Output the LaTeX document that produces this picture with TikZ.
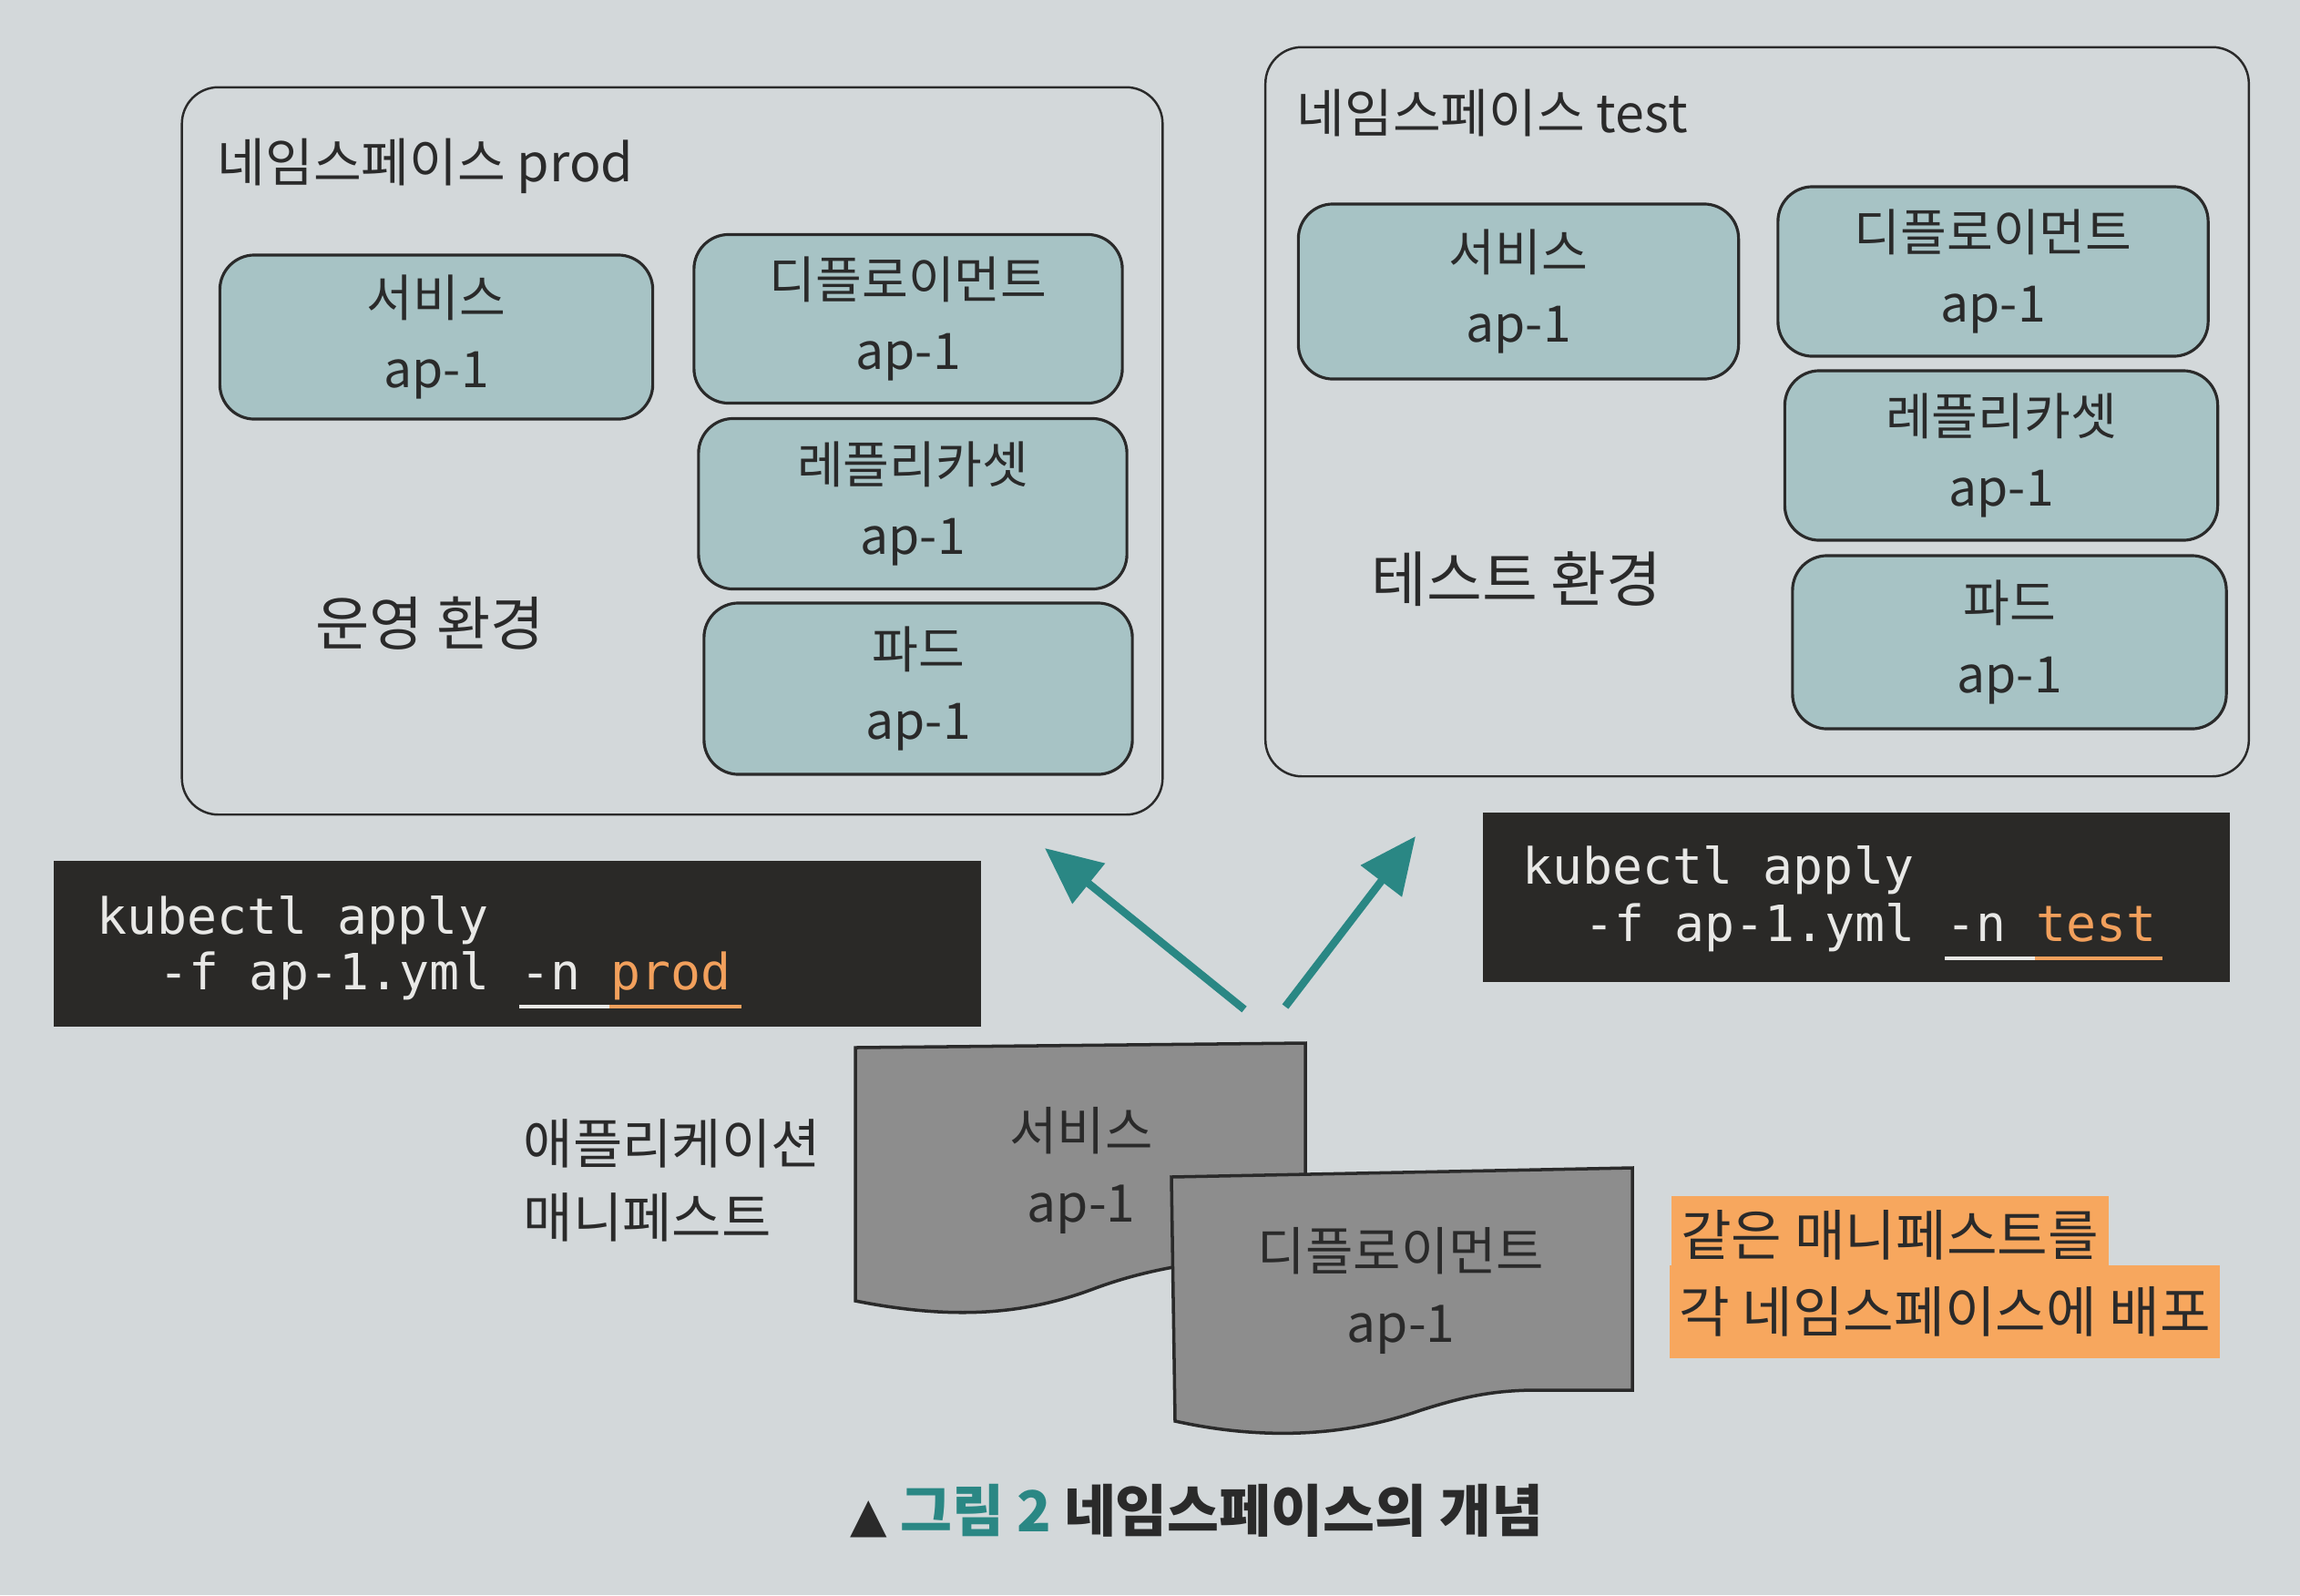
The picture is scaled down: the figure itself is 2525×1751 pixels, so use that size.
\documentclass[tikz,border=0pt]{standalone}
\usepackage{fontspec}
\setmainfont{Noto Sans CJK KR}
\setmonofont{DejaVu Sans Mono}
\newfontfamily\symfont{DejaVu Sans}
\usetikzlibrary{arrows.meta,calc}
\definecolor{paper}{HTML}{D3D8DA}
\definecolor{boxfill}{HTML}{A7C3C5}
\definecolor{myteal}{HTML}{2A8784}
\definecolor{codebg}{HTML}{2A2927}
\definecolor{codefg}{HTML}{E8E8E6}
\definecolor{codeor}{HTML}{F2A05C}
\definecolor{hlor}{HTML}{F7A75E}
\definecolor{docgray}{HTML}{8D8D8D}
\definecolor{ink}{HTML}{2A2A2A}
\begin{document}
\begin{tikzpicture}[x=0.01cm,y=-0.01cm,
  nsbox/.style={draw=ink, line width=0.7pt, rounded corners=0.4cm, inner sep=0pt},
  kbox/.style={draw=ink, line width=0.9pt, fill=boxfill, rounded corners=0.38cm,
    align=center, font=\fontsize{15.7}{22}\selectfont, text=ink, inner sep=0pt},
  lbl/.style={font=\fontsize{16.3}{22}\selectfont, text=ink, inner sep=0pt},
  envlbl/.style={font=\fontsize{18.3}{22}\selectfont, text=ink, inner sep=0pt},
  codebox/.style={fill=codebg, inner sep=0pt},
  code/.style={font=\ttfamily\fontsize{15.6}{18}\selectfont, text=codefg, inner sep=0pt, anchor=base west},
  arr/.style={myteal, line width=2.4pt, -{Triangle[length=0.62cm,width=0.55cm]}},
  doc/.style={draw=ink, line width=1pt, fill=docgray},
  doctext/.style={align=center, font=\fontsize{16.2}{22.5}\selectfont, text=ink, inner sep=0pt},
  hl/.style={fill=hlor, font=\fontsize{17.2}{20}\selectfont, text=ink, inner xsep=3pt, anchor=west}
]
\useasboundingbox (0,0) rectangle (2525,1751);
\fill[paper] (0,0) rectangle (2525,1751);

% namespace prod
\node[nsbox, minimum width=10.76cm, minimum height=7.98cm] (nsprod) at (738,495) {};
\node[lbl, anchor=west] (tprod) at (238,182) {네임스페이스 prod};
\node[kbox, minimum width=4.75cm, minimum height=1.80cm] (psvc) at (479,370) {서비스\\ap-1};
\node[kbox, minimum width=4.70cm, minimum height=1.85cm] (pdep) at (997,350) {디플로이먼트\\ap-1};
\node[kbox, minimum width=4.70cm, minimum height=1.87cm] (prs) at (1002,553) {레플리카셋\\ap-1};
\node[kbox, minimum width=4.70cm, minimum height=1.88cm] (ppod) at (1008,756) {파드\\ap-1};
\node[envlbl] (envprod) at (472,684) {운영 환경};

% namespace test
\node[nsbox, minimum width=10.79cm, minimum height=8.00cm] (nstest) at (1929,452) {};
\node[lbl, anchor=west] (ttest) at (1423,124) {네임스페이스 test};
\node[kbox, minimum width=4.83cm, minimum height=1.92cm] (tsvc) at (1667,320) {서비스\\ap-1};
\node[kbox, minimum width=4.72cm, minimum height=1.86cm] (tdep) at (2188,298) {디플로이먼트\\ap-1};
\node[kbox, minimum width=4.75cm, minimum height=1.86cm] (trs) at (2197,500) {레플리카셋\\ap-1};
\node[kbox, minimum width=4.76cm, minimum height=1.90cm] (tpod) at (2206,705) {파드\\ap-1};
\node[envlbl, font=\fontsize{18.8}{22}\selectfont] (envtest) at (1665,636) {테스트 환경};

% code boxes
\node[codebox, minimum width=10.17cm, minimum height=1.82cm] (cprod) at (568,1036) {};
\node[code] (p1) at (106,1025) {kubectl apply};
\node[code] (p2) at (174,1086) {-f ap-1.yml -n \textcolor{codeor}{prod}};
\draw[codefg, line width=1.3pt] ($(p2.base west)+(396,19)$) -- ($(p2.base west)+(495,19)$);
\draw[codeor, line width=1.3pt] ($(p2.base west)+(495,19)$) -- ($(p2.base west)+(640,19)$);

\node[codebox, minimum width=8.20cm, minimum height=1.85cm] (ctest) at (2038,985) {};
\node[code] (p3) at (1671,970) {kubectl apply};
\node[code] (p4) at (1739,1033) {-f ap-1.yml -n \textcolor{codeor}{test}};
\draw[codefg, line width=1.3pt] ($(p4.base west)+(396,19)$) -- ($(p4.base west)+(495,19)$);
\draw[codeor, line width=1.3pt] ($(p4.base west)+(495,19)$) -- ($(p4.base west)+(635,19)$);

% arrows
\coordinate (a1s) at (1366,1108);
\coordinate (a1e) at (1147,931);
\coordinate (a2s) at (1411,1105);
\coordinate (a2e) at (1554,918);
\draw[arr] (a1s) -- (a1e);
\draw[arr] (a2s) -- (a2e);

% manifest documents
\draw[doc] (939,1150) -- (1433,1145) -- (1433,1380)
  .. controls (1360,1380) and (1280,1385) .. (1200,1415)
  .. controls (1120,1445) and (1040,1448) .. (939,1428) -- cycle;
\node[doctext] (dsvc) at (1187,1285) {서비스\\ap-1};
\draw[doc] (1286,1292) -- (1792,1282) -- (1792,1526) -- (1680,1526)
  .. controls (1640,1527) and (1610,1532) .. (1560,1548)
  .. controls (1480,1576) and (1390,1582) .. (1290,1560) -- cycle;
\node[doctext] (ddep) at (1538,1417) {디플로이먼트\\ap-1};

\node[lbl, font=\fontsize{16.8}{23}\selectfont, align=left, anchor=west] (mlabel) at (574,1296) {애플리케이션\\매니페스트};

% highlight note
\node[hl, minimum height=0.86cm] (h1) at (1834,1356) {같은 매니페스트를};
\node[hl, minimum height=1.02cm] (h2) at (1832,1440) {각 네임스페이스에 배포};

% caption
\node[font=\bfseries\fontsize{17.6}{20}\selectfont, text=ink, inner sep=0pt] (cap) at (1314,1659)
  {{\symfont\fontsize{15}{16}\selectfont ▲}\ \textcolor{myteal}{그림 2} 네임스페이스의 개념};
\end{tikzpicture}
\end{document}
